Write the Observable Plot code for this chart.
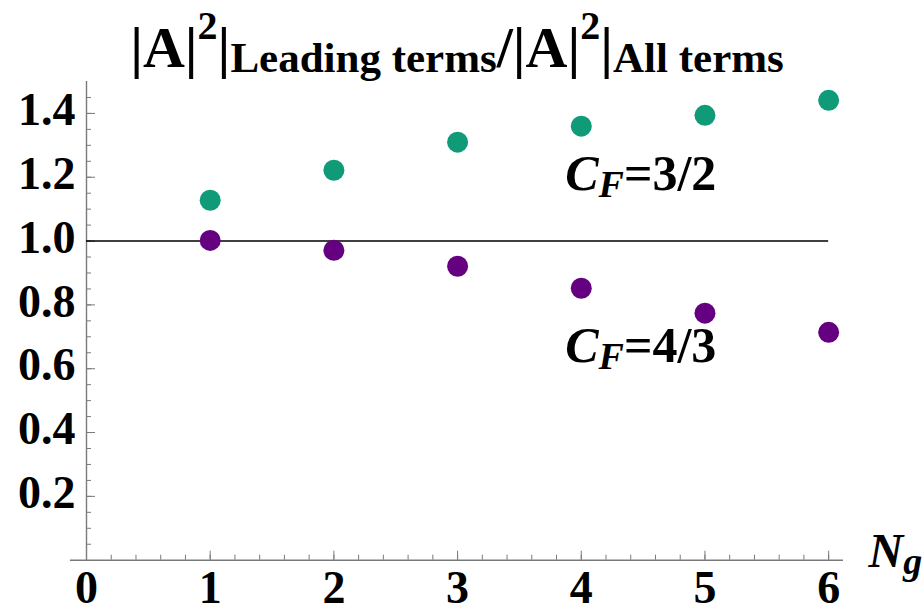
<!DOCTYPE html>
<html>
<head>
<meta charset="utf-8">
<script src="https://cdn.jsdelivr.net/npm/d3@7"></script>
<script src="https://cdn.jsdelivr.net/npm/@observablehq/plot@0.6"></script>
<style>
  html, body { margin: 0; padding: 0; background: #fff; }
  #wrap { position: relative; width: 922px; height: 613px; overflow: hidden; }
  #title {
    position: absolute; left: 0; top: 18px; width: 914px; z-index: 2;
    text-align: center; white-space: nowrap;
    font-family: "Liberation Serif", "Times New Roman", serif;
    font-weight: bold; font-size: 58px; line-height: 60px; color: #000;
  }
  #title .sup { font-size: 40px; position: relative; top: -28px; line-height: 1; }
  #title .sub { font-size: 43px; position: relative; top: 5px; line-height: 1; }
</style>
</head>
<body>
<div id="wrap">
  <div id="title"><span>|A|</span><span class="sup">2</span><span>|</span><span class="sub">Leading terms</span><span>/|A|</span><span class="sup">2</span><span>|</span><span class="sub">All terms</span></div>
  <div id="chart"></div>
</div>
<script>
// ---- data ----
const ng = [1, 2, 3, 4, 5, 6];
const ratioCF32 = [1.128, 1.222, 1.310, 1.360, 1.394, 1.441];
const ratioCF43 = [1.002, 0.971, 0.921, 0.852, 0.774, 0.714];
const seriesLabels = ["C_F=3/2", "C_F=4/3"];
const labelX = [3.87, 3.87];
const labelY = [1.16, 0.62];
const xTicks = [0, 1, 2, 3, 4, 5, 6];
const xTickLabels = ["0", "1", "2", "3", "4", "5", "6"];
const yTicks = [0.2, 0.4, 0.6, 0.8, 1.0, 1.2, 1.4];
const yTickLabels = ["0.2", "0.4", "0.6", "0.8", "1.0", "1.2", "1.4"];
const xMinorTicks = d3.range(0, 31).map(i => i / 5);
const yMinorTicks = d3.range(1, 30).map(i => i / 20);
const xAxisExtent = [-0.13, 6.12];
const yAxisExtent = [0, 1.5];
const xLabel = "N_g";
const refLevel = 1;

const colors = ["#0f9a78", "#650080"];
const axisGray = "#7a7a7a";
const serif = '"Liberation Serif", "Times New Roman", serif';

const s32 = ng.map((n, i) => ({ng: n, r: ratioCF32[i]}));
const s43 = ng.map((n, i) => ({ng: n, r: ratioCF43[i]}));
const labels = seriesLabels.map((t, i) => ({t, x: labelX[i], y: labelY[i]}));

const tickFont = {fontFamily: serif, fontWeight: "bold", fontSize: 46};

const chart = Plot.plot({
  width: 922,
  height: 613,
  marginLeft: 86,
  marginRight: 79,
  marginTop: 81,
  marginBottom: 53.3,
  x: {domain: [0, xAxisExtent[1]]},
  y: {domain: yAxisExtent},
  style: {background: "white", overflow: "visible"},
  marks: [
    Plot.ruleY([0], {x1: xAxisExtent[0], x2: xAxisExtent[1], stroke: axisGray, strokeWidth: 1.4}),
    Plot.ruleX([0], {y1: yAxisExtent[0], y2: yAxisExtent[1], stroke: axisGray, strokeWidth: 1.4}),
    Plot.axisY(yMinorTicks, {anchor: "left", tickSize: 5, dx: 5, fill: "none", stroke: axisGray, label: null}),
    Plot.axisY(yTicks, {anchor: "left", tickSize: 9, dx: 9, fill: "none", stroke: axisGray, label: null}),
    Plot.axisX(xMinorTicks, {anchor: "bottom", tickSize: 5, dy: -5, fill: "none", stroke: axisGray, label: null}),
    Plot.axisX(xTicks, {anchor: "bottom", tickSize: 9, dy: -9, fill: "none", stroke: axisGray, label: null}),
    Plot.axisY(yTicks, {anchor: "left", tickSize: 0, tickPadding: 11, dy: -3, stroke: "none", fill: "black",
      tickFormat: d => yTickLabels[yTicks.indexOf(d)], label: null, ...tickFont}),
    Plot.axisX(xTicks, {anchor: "bottom", tickSize: 0, tickPadding: 10, stroke: "none", fill: "black",
      tickFormat: d => xTickLabels[xTicks.indexOf(d)], label: null, ...tickFont}),
    Plot.ruleY([refLevel], {x1: d3.min(ng) - 1, x2: d3.max(ng), stroke: "black", strokeWidth: 1.4}),
    Plot.dot(s32, {x: "ng", y: "r", r: 10.5, fill: colors[0]}),
    Plot.dot(s43, {x: "ng", y: "r", r: 10.5, fill: colors[1]}),
    Plot.text(labels, {x: "x", y: "y", text: "t", textAnchor: "start", lineAnchor: "bottom",
      fontFamily: serif, fontWeight: "bold", fontSize: 50, fill: "black"}),
    Plot.text([xLabel], {x: xAxisExtent[1], y: 0, text: d => d, textAnchor: "start", lineAnchor: "bottom",
      dx: 25, dy: 7, fontFamily: serif, fontWeight: "bold", fontSize: 48, fill: "black"})
  ]
});

// turn "X_sub rest" into italic base + italic subscript + rest
const NS = "http://www.w3.org/2000/svg";
d3.select(chart).selectAll("text").each(function() {
  const t = this.textContent;
  if (this.childElementCount > 0 || t.indexOf("_") < 0) return;
  const m = t.match(/^(.)_([^=]+)(.*)$/);
  if (!m) return;
  this.textContent = "";
  const a = document.createElementNS(NS, "tspan");
  a.setAttribute("font-style", "italic");
  a.textContent = m[1];
  this.appendChild(a);
  const b = document.createElementNS(NS, "tspan");
  b.setAttribute("font-style", "italic");
  b.setAttribute("font-size", "38");
  b.setAttribute("dy", "7");
  b.textContent = m[2];
  this.appendChild(b);
  if (m[3]) {
    const c = document.createElementNS(NS, "tspan");
    c.setAttribute("dy", "-7");
    c.textContent = m[3];
    this.appendChild(c);
  }
});

document.getElementById("chart").appendChild(chart);
</script>
</body>
</html>
